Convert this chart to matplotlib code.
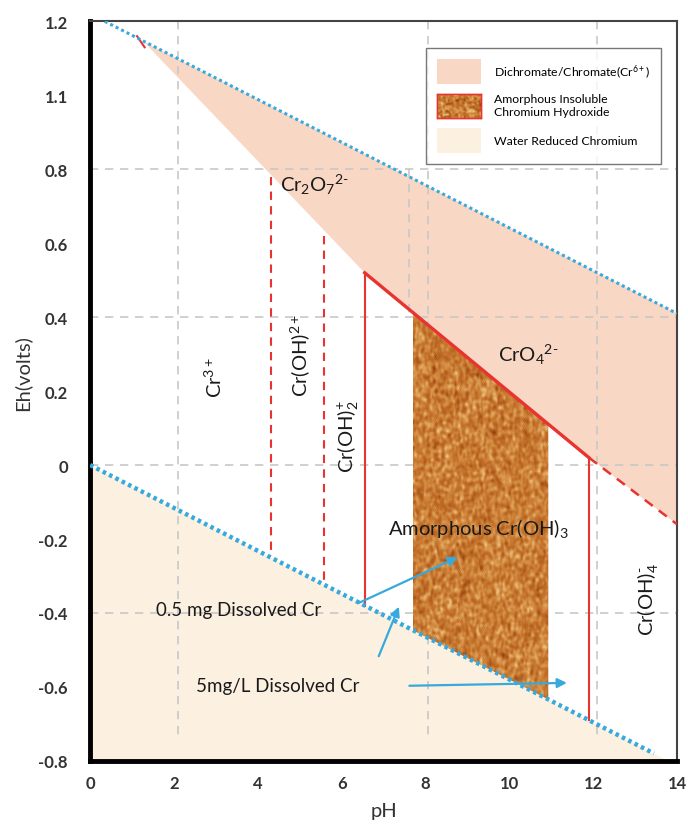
import numpy as np
import matplotlib
matplotlib.use("Agg")
import matplotlib.pyplot as plt
from matplotlib.patches import Polygon, Patch
from matplotlib.colors import LinearSegmentedColormap

plt.rcParams['font.family'] = ['Lato', 'DejaVu Sans']
plt.rcParams['mathtext.fontset'] = 'custom'
plt.rcParams['mathtext.rm'] = 'Lato'
plt.rcParams['mathtext.it'] = 'Lato'
plt.rcParams['mathtext.default'] = 'regular'

# water stability lines
upper_water_ph = [0.35, 14.0]
upper_water_eh = [1.20, 0.41]
lower_water_ph = [0.0, 13.45]
lower_water_eh = [0.0, -0.78]

# Cr(VI) lower boundary (solid red part, then dashed extension)
cr6_ph = [1.27, 6.55, 11.9]
cr6_eh = [1.146, 0.52, 0.02]
cr6_ext_ph = [11.9, 14.0]
cr6_ext_eh = [0.02, -0.16]

# dashed red verticals
dash_ph = [4.32, 5.59]
dash_top = [0.78, 0.62]
dash_bot = [-0.235, -0.315]

# solid red verticals
solid_ph = [6.55, 11.9]
solid_top = [0.52, 0.02]
solid_bot = [-0.38, -0.69]

# amorphous Cr(OH)3 block
brown_ph = [7.7, 10.93]
brown_top = [0.415, 0.11]
brown_bot = [-0.447, -0.634]

yticks = [1.2, 1.0, 0.8, 0.6, 0.4, 0.2, 0.0, -0.2, -0.4, -0.6, -0.8]
ytick_labels = ['1.2', '1.1', '0.8', '0.6', '0.4', '0.2', '0', '-0.2', '-0.4', '-0.6', '-0.8']
xticks = [0, 2, 4, 6, 8, 10, 12, 14]

pink = '#f9d7c5'
beige = '#fcf1e1'
blue = '#38a9dc'
red = '#e8332f'


def rust_texture(rows, cols, seed):
    # mottled rust look for the hydroxide fill (decoration only)
    rng = np.random.default_rng(seed)
    t = rng.random((rows, cols))
    for _ in range(2):
        t = (t + np.roll(t, 1, 0) + np.roll(t, -1, 0) + np.roll(t, 1, 1) + np.roll(t, -1, 1)) / 5
    return (t - t.min()) / (t.max() - t.min())


tex_cmap = LinearSegmentedColormap.from_list('rust', ['#8a3c10', '#b25d1e', '#c8782f', '#dc9d55', '#f2cf8e'])

fig = plt.figure(figsize=(6.88, 8.29), dpi=100)
ax = fig.add_axes([0.131, 0.081, 0.853, 0.892])
ax.set_xlim(0, 14)
ax.set_ylim(-0.8, 1.2)

# grid
for g in [0.8, 0.4, 0.0, -0.4]:
    ax.plot([0, 14], [g, g], ls=(0, (5, 4)), color='#c8c8c8', lw=1.2, zorder=1.5)
for g in [2.1, 8.05, 12.1]:
    ax.plot([g, g], [1.2, -0.74], ls=(0, (5, 4)), color='#c8c8c8', lw=1.2, zorder=1.5)
ax.plot([7.6, 7.6], [0.8, 0.4], ls=(0, (5, 4)), color='#c8c8c8', lw=1.2, zorder=1.5)

# water reduced region
xs = np.linspace(0, 14, 200)
lo_slope = (lower_water_eh[1] - lower_water_eh[0]) / (lower_water_ph[1] - lower_water_ph[0])
ax.fill_between(xs, -0.8, np.maximum(-0.8, lower_water_eh[0] + lo_slope * xs),
                color=beige, lw=0, zorder=1)

# dichromate / chromate region
pink_poly = [(cr6_ph[0], cr6_eh[0]), (upper_water_ph[1], upper_water_eh[1]),
             (cr6_ext_ph[1], cr6_ext_eh[1]), (cr6_ext_ph[0], cr6_ext_eh[0]),
             (cr6_ph[1], cr6_eh[1])]
ax.add_patch(Polygon(pink_poly, closed=True, facecolor=pink, edgecolor='none', zorder=1))

# amorphous Cr(OH)3 texture
brown_poly = Polygon([(brown_ph[0], brown_top[0]), (brown_ph[1], brown_top[1]),
                      (brown_ph[1], brown_bot[1]), (brown_ph[0], brown_bot[0])],
                     closed=True, facecolor='none', edgecolor='none', zorder=2)
ax.add_patch(brown_poly)
im = ax.imshow(rust_texture(260, 130, 7), extent=[brown_ph[0], brown_ph[1], min(brown_bot), max(brown_top)],
               aspect='auto', cmap=tex_cmap, zorder=2, interpolation='bilinear')
im.set_clip_path(brown_poly)

# red boundaries
ax.plot(cr6_ph[1:], cr6_eh[1:], color=red, lw=2.4, zorder=4)
ax.plot(cr6_ext_ph, cr6_ext_eh, color=red, lw=1.8, ls=(0, (4, 3)), zorder=4)
ax.plot([1.12, 1.3], [1.16, 1.13], color=red, lw=1.5, zorder=4)
for p, t, b in zip(solid_ph, solid_top, solid_bot):
    ax.plot([p, p], [t, b], color=red, lw=1.5, zorder=4)
for p, t, b in zip(dash_ph, dash_top, dash_bot):
    ax.plot([p, p], [t, b], color=red, lw=1.5, ls=(0, (4, 3)), zorder=4)

# water lines
ax.plot(upper_water_ph, upper_water_eh, color=blue, lw=2.2, ls=(0, (1, 1)), zorder=5)
ax.plot(lower_water_ph, lower_water_eh, color=blue, lw=3.2, ls=(0, (0.8, 0.8)), zorder=5)

# species labels
tk = dict(color='#1a1a1a', fontsize=14.5, zorder=6, ha='center', va='center')
ax.text(5.35, 0.76, r'Cr$_2$O$_7$$^{2\text{-}}$', **tk)
ax.text(10.45, 0.30, r'CrO$_4$$^{2\text{-}}$', **tk)
ax.text(2.95, 0.24, r'Cr$^{3+}$', rotation=90, **tk)
ax.text(5.0, 0.30, r'Cr(OH)$^{2+}$', rotation=90, **tk)
ax.text(6.15, 0.08, r'Cr(OH)$_2^{+}$', rotation=90, **tk)
ax.text(9.25, -0.17, r'Amorphous Cr(OH)$_3$', **tk)
ax.text(13.3, -0.36, r'Cr(OH)$_4^{\text{-}}$', rotation=90, **tk)
ax.text(3.55, -0.39, '0.5 mg Dissolved Cr', ha='center', va='center', color='#1a1a1a', fontsize=13.5, zorder=6)
ax.text(4.47, -0.595, '5mg/L Dissolved Cr', ha='center', va='center', color='#1a1a1a', fontsize=13.5, zorder=6)

# arrows
arr = dict(arrowstyle='-|>', color=blue, lw=1.6, mutation_scale=14)
ax.annotate('', xy=(8.83, -0.246), xytext=(6.35, -0.376), arrowprops=arr, zorder=6)
ax.annotate('', xy=(7.39, -0.376), xytext=(6.86, -0.524), arrowprops=arr, zorder=6)
ax.annotate('', xy=(11.44, -0.589), xytext=(7.55, -0.597), arrowprops=arr, zorder=6)

# legend
handles = [Patch(facecolor=pink, edgecolor='none', label='Dichromate/Chromate(Cr$^{6+}$)'),
           Patch(facecolor='#c0702c', edgecolor=red, lw=1.0, label='Amorphous Insoluble\nChromium Hydroxide'),
           Patch(facecolor=beige, edgecolor='none', label='Water Reduced Chromium')]
leg = ax.legend(handles=handles, loc='upper right', bbox_to_anchor=(0.983, 0.972), fontsize=8.8,
                frameon=True, fancybox=False, edgecolor='#555555', handlelength=3.6, handleheight=2.7,
                labelspacing=0.8, borderpad=0.9, handletextpad=1.0)
leg.get_frame().set_linewidth(1.0)
leg.set_zorder(7)

# axes styling
ax.set_xticks(xticks)
ax.set_yticks(yticks)
ax.set_yticklabels(ytick_labels)
ax.tick_params(length=0, labelsize=12, labelcolor='#333333')
ax.tick_params(axis='y', pad=16)
ax.tick_params(axis='x', pad=10)
for lab in ax.get_xticklabels() + ax.get_yticklabels():
    lab.set_fontweight('bold')
for s in ['left', 'bottom']:
    ax.spines[s].set_linewidth(3.5)
    ax.spines[s].set_color('black')
for s in ['top', 'right']:
    ax.spines[s].set_linewidth(1.5)
    ax.spines[s].set_color('#444444')

ax.set_xlabel('pH', fontsize=14.5, color='#333333', labelpad=8)
fig.text(0.032, 0.55, 'Eh(volts)', rotation=90, ha='center', va='center', fontsize=14.5, color='#333333')

# put the rust texture inside the legend swatch too
fig.canvas.draw()
bb = leg.get_patches()[1].get_window_extent().transformed(fig.transFigure.inverted())
lax = fig.add_axes([bb.x0, bb.y0, bb.width, bb.height], zorder=10)
lax.imshow(rust_texture(30, 50, 3), cmap=tex_cmap, aspect='auto', interpolation='bilinear')
lax.set_xticks([])
lax.set_yticks([])
for s in lax.spines.values():
    s.set_color(red)
    s.set_linewidth(1.0)

fig.savefig('out.png', dpi=100)
